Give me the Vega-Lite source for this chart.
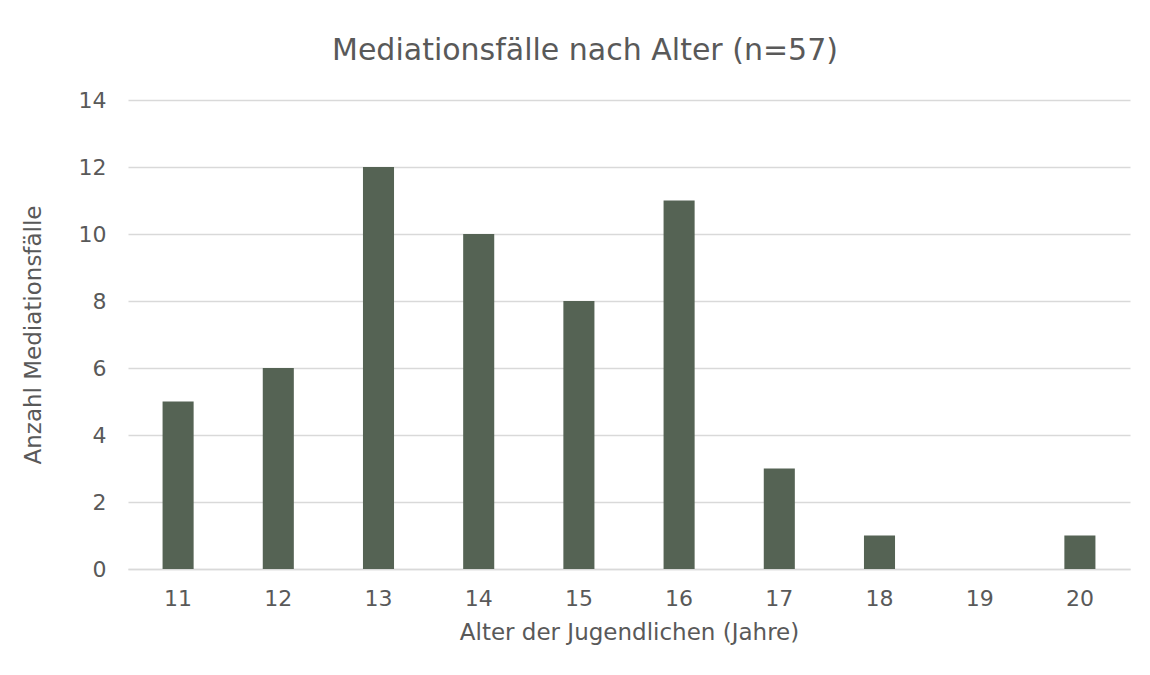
{
  "$schema": "https://vega.github.io/schema/vega-lite/v6.json",
  "width": 1002,
  "height": 469,
  "autosize": {"type": "none"},
  "padding": {"left": 128, "top": 100, "right": 20, "bottom": 106},
  "background": "white",
  "title": {
    "text": "Mediationsfälle nach Alter (n=57)",
    "font": "DejaVu Sans",
    "fontSize": 30,
    "fontWeight": "normal",
    "color": "#595959",
    "anchor": "middle",
    "offset": 23,
    "dx": -44
  },
  "data": {
    "values": [
      {"alter": "11", "anzahl": 5},
      {"alter": "12", "anzahl": 6},
      {"alter": "13", "anzahl": 12},
      {"alter": "14", "anzahl": 10},
      {"alter": "15", "anzahl": 8},
      {"alter": "16", "anzahl": 11},
      {"alter": "17", "anzahl": 3},
      {"alter": "18", "anzahl": 1},
      {"alter": "19", "anzahl": 0},
      {"alter": "20", "anzahl": 1}
    ]
  },
  "mark": {"type": "bar", "color": "#556354"},
  "encoding": {
    "x": {
      "field": "alter",
      "type": "ordinal",
      "sort": null,
      "scale": {"paddingInner": 0.69, "paddingOuter": 0.345},
      "axis": {
        "title": "Alter der Jugendlichen (Jahre)",
        "labelAngle": 0,
        "ticks": false,
        "domain": true,
        "domainColor": "#d9d9d9",
        "domainWidth": 1.5,
        "labelPadding": 19,
        "titlePadding": 12
      }
    },
    "y": {
      "field": "anzahl",
      "type": "quantitative",
      "scale": {"domain": [0, 14]},
      "axis": {
        "title": "Anzahl Mediationsfälle",
        "values": [0, 2, 4, 6, 8, 10, 12, 14],
        "ticks": false,
        "domain": false,
        "gridColor": "#d9d9d9",
        "gridWidth": 1.5,
        "labelPadding": 22,
        "titlePadding": 33
      }
    }
  },
  "config": {
    "view": {"stroke": null},
    "axis": {
      "labelFont": "DejaVu Sans",
      "labelFontSize": 22,
      "labelColor": "#595959",
      "titleFont": "DejaVu Sans",
      "titleFontSize": 23,
      "titleFontWeight": "normal",
      "titleColor": "#595959"
    }
  }
}
